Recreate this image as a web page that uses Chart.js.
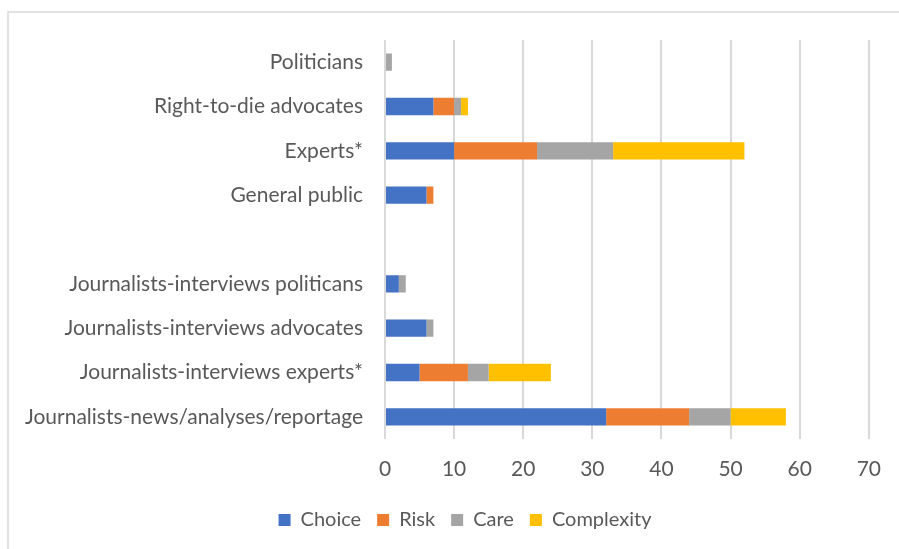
<!DOCTYPE html>
<html>
<head>
<meta charset="utf-8">
<script src="https://cdn.jsdelivr.net/npm/chart.js@4/dist/chart.umd.min.js"></script>
<style>
  html, body { margin: 0; padding: 0; background: #ffffff; }
  #wrap { position: relative; width: 899px; height: 549px; }
</style>
</head>
<body>
<div id="wrap"><canvas id="c" width="899" height="549"></canvas></div>
<script>
// Source groups, top to bottom; the blank entry separates the two groups
const categories = [
  'Politicians',
  'Right-to-die advocates',
  'Experts*',
  'General public',
  '',
  'Journalists-interviews politicans',
  'Journalists-interviews advocates',
  'Journalists-interviews experts*',
  'Journalists-news/analyses/reportage'
];

// Frame counts per source
const choice     = [0, 7, 10, 6, null, 2, 6, 5, 32];
const risk       = [0, 3, 12, 1, null, 0, 0, 7, 12];
const care       = [1, 1, 11, 0, null, 1, 1, 3, 6];
const complexity = [0, 1, 19, 0, null, 0, 0, 9, 8];

const xTicks = [0, 10, 20, 30, 40, 50, 60, 70];

const FONT = 'Lato, "Open Sans", sans-serif';
const TEXT = '#595959';
const SIZE = 21;

// light frame around the chart area
const framePlugin = {
  id: 'frame',
  beforeDraw(chart) {
    const ctx = chart.ctx;
    ctx.save();
    ctx.fillStyle = '#ffffff';
    ctx.fillRect(0, 0, chart.width, chart.height);
    ctx.strokeStyle = '#d9d9d9';
    ctx.lineWidth = 1.5;
    ctx.strokeRect(8, 12, chart.width + 20, chart.height + 20);
    ctx.restore();
  }
};

// centre the legend under the frame rather than the canvas
const legendShift = {
  id: 'legendShift',
  afterLayout(chart) {
    const lg = chart.legend;
    if (lg) { lg.left += 23; lg.right += 23; }
  }
};

const series = [
  { label: 'Choice', data: choice, color: '#4472c4' },
  { label: 'Risk', data: risk, color: '#ed7d31' },
  { label: 'Care', data: care, color: '#a5a5a5' },
  { label: 'Complexity', data: complexity, color: '#ffc000' }
];

new Chart(document.getElementById('c'), {
  type: 'bar',
  data: {
    labels: categories,
    datasets: series.map(s => ({
      label: s.label,
      data: s.data,
      backgroundColor: s.color,
      borderWidth: 0,
      barPercentage: 0.39,
      categoryPercentage: 1.0
    }))
  },
  options: {
    indexAxis: 'y',
    responsive: false,
    animation: false,
    devicePixelRatio: 1,
    layout: { padding: { top: 40, right: 15, left: 0, bottom: 9 } },
    scales: {
      x: {
        stacked: true,
        min: 0,
        max: 70,
        afterBuildTicks(scale) {
          scale.ticks = xTicks.map(v => ({ value: v }));
        },
        afterFit(scale) { scale.height = 55; },
        grid: {
          color: '#d9d9d9',
          lineWidth: 2,
          drawTicks: false
        },
        border: { display: false },
        ticks: {
          color: TEXT,
          font: { family: FONT, size: SIZE },
          padding: 18
        }
      },
      y: {
        stacked: true,
        afterFit(scale) { scale.width = 385; },
        grid: { display: false, drawTicks: false },
        border: { display: false },
        ticks: {
          color: TEXT,
          font: { family: FONT, size: SIZE },
          padding: 22,
          autoSkip: false
        }
      }
    },
    plugins: {
      legend: {
        position: 'bottom',
        labels: {
          color: TEXT,
          font: { family: FONT, size: SIZE - 1 },
          boxWidth: 12,
          boxHeight: 12,
          padding: 16
        }
      },
      tooltip: { enabled: false }
    }
  },
  plugins: [framePlugin, legendShift]
});
</script>
</body>
</html>
